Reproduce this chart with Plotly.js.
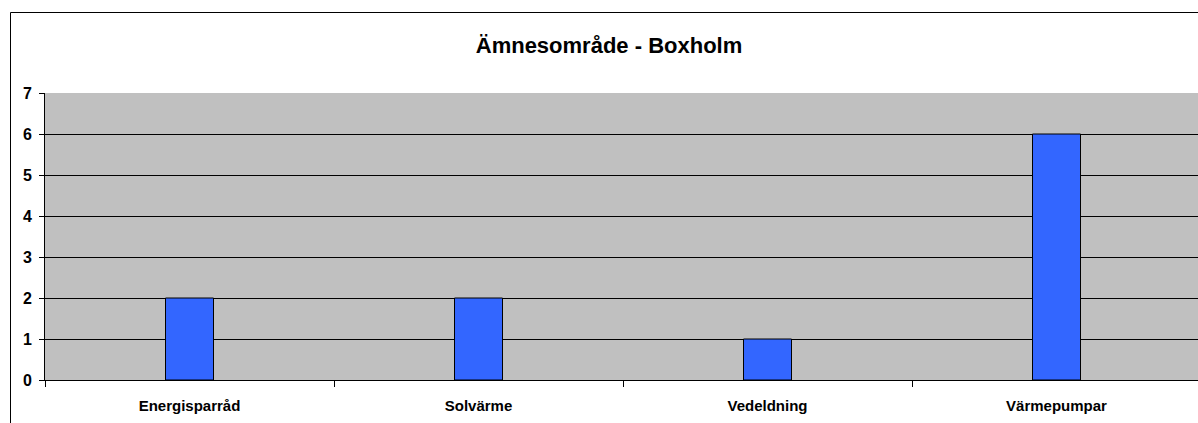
<!DOCTYPE html>
<html>
<head>
<meta charset="utf-8">
<script src="https://cdn.plot.ly/plotly-3.0.1.min.js"></script>
<style>html,body{margin:0;padding:0;background:#fff;}#chart{width:1198px;height:423px;}</style>
</head>
<body>
<div id="chart"></div>
<script>
const categories = ["Energisparråd", "Solvärme", "Vedeldning", "Värmepumpar"];
const values = [2, 2, 1, 6];
const chartTitle = "Ämnesområde - Boxholm";

const W = 1198, H = 423;
const L = 45, T = 93, B = 43;
const plotW = W - L, plotH = H - T - B;
const catPx = 289;
const FONT = "Arial, 'Liberation Sans', sans-serif";

const trace = {
  type: "bar",
  x: categories,
  y: values,
  width: categories.map(() => 48 / catPx),
  marker: { color: "#3366FF", line: { color: "#000000", width: 1 } },
  hoverinfo: "x+y"
};

const layout = {
  width: W, height: H,
  margin: { l: L, r: 0, t: T, b: B, pad: 0 },
  paper_bgcolor: "#ffffff",
  plot_bgcolor: "#C0C0C0",
  font: { family: FONT, color: "#000" },
  title: {
    text: "<b>" + chartTitle + "</b>",
    font: { size: 22, family: FONT, color: "#000" },
    xref: "container", x: 609 / W, xanchor: "center",
    yref: "container", y: 1 - 45 / H, yanchor: "middle"
  },
  xaxis: {
    type: "category",
    range: [-0.5, -0.5 + plotW / catPx],
    tickson: "boundaries",
    ticks: "outside", ticklen: 6, tickcolor: "#000", tickwidth: 1,
    ticklabelstandoff: 12,
    showgrid: false,
    showline: true, linecolor: "#000", linewidth: 1,
    tickfont: { size: 15, family: FONT, color: "#000", weight: "bold" },
    fixedrange: true
  },
  yaxis: {
    range: [0, 7],
    dtick: 1, tick0: 0,
    ticks: "outside", ticklen: 5, tickcolor: "#000", tickwidth: 1,
    ticklabelstandoff: 4,
    showgrid: true, gridcolor: "#000", gridwidth: 1,
    zeroline: true, zerolinecolor: "#000",
    showline: true, linecolor: "#000", linewidth: 1,
    tickfont: { size: 16, family: FONT, color: "#000", weight: "bold" },
    fixedrange: true
  },
  shapes: [
    {
      type: "rect", xref: "paper", yref: "paper",
      x0: (10.5 - L) / plotW, x1: 1.2,
      y0: -0.3, y1: (H - B - 12.5) / plotH,
      line: { color: "#000", width: 1 }, fillcolor: "rgba(0,0,0,0)", layer: "below"
    }
  ],
  showlegend: false,
  bargap: 0
};

Plotly.newPlot("chart", [trace], layout, { displayModeBar: false, staticPlot: true });
</script>
</body>
</html>
